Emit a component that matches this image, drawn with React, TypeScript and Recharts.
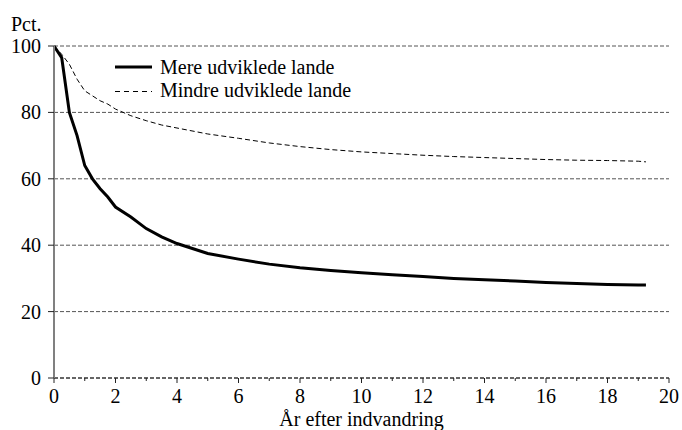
import { LineChart, Line, XAxis, YAxis, CartesianGrid } from 'recharts'

// years since immigration
const years = [0, 0.25, 0.5, 0.75, 1, 1.25, 1.5, 1.75, 2, 2.5, 3, 3.5, 4, 5, 6, 7, 8, 9, 10, 11, 12, 13, 14, 15, 16, 17, 18, 19, 19.25]
const mere = [100, 96.5, 80, 73, 64, 60, 57, 54.5, 51.5, 48.5, 45, 42.5, 40.5, 37.5, 35.8, 34.3, 33.2, 32.4, 31.7, 31.1, 30.6, 30.0, 29.6, 29.2, 28.8, 28.5, 28.2, 28.0, 28.0]
const mindre = [100, 97.5, 94.5, 90, 86.5, 85, 83.5, 82.5, 81, 79, 77.5, 76.2, 75.3, 73.5, 72.2, 70.8, 69.7, 68.8, 68.1, 67.6, 67.1, 66.7, 66.4, 66.1, 65.8, 65.6, 65.5, 65.3, 65.1]
const seriesNames = ['Mere udviklede lande', 'Mindre udviklede lande']
const xTicks = Array.from({ length: 21 }, (_, i) => i)
const yTicks = [0, 20, 40, 60, 80, 100]

const data = years.map((yr, i) => ({ yr, mere: mere[i], mindre: mindre[i] }))

const FONT = 'Liberation Serif'

// x ticks: long mark + label on even years, short mark on odd years
function XTick(props: any) {
  const { x, y, payload } = props
  const major = payload.value % 2 === 0
  const axisY = y - 6
  return (
    <g>
      <line x1={x} x2={x} y1={axisY} y2={axisY + (major ? 5 : 3)} stroke="#222" />
      {major && (
        <text x={x} y={axisY + 24.5} textAnchor="middle" style={{ fontFamily: FONT }} fontSize={20} fill="#000">
          {payload.value}
        </text>
      )}
    </g>
  )
}

function YTick(props: any) {
  const { x, y, payload } = props
  return (
    <text x={x} y={y + 7} textAnchor="end" style={{ fontFamily: FONT }} fontSize={20} fill="#000">
      {payload.value}
    </text>
  )
}

export default function App() {
  return (
    <div style={{ position: 'absolute', left: 0, top: 0, width: 682, height: 430, background: '#fff', fontFamily: FONT }}>
      <LineChart width={682} height={430} data={data} margin={{ top: 46, right: 13, bottom: 0, left: 0 }} style={{ fontFamily: FONT }}>
        <CartesianGrid vertical={false} stroke="#555" strokeDasharray="4 2" horizontalValues={yTicks} />
        <XAxis
          dataKey="yr"
          type="number"
          domain={[0, 20]}
          ticks={xTicks}
          interval={0}
          height={52}
          tickSize={6}
          tickMargin={0}
          tick={<XTick />}
          tickLine={false}
          axisLine={{ stroke: '#222', strokeDasharray: '4 2' }}
          label={{ value: 'År efter indvandring', position: 'insideBottom', offset: 4, style: { fontFamily: FONT }, fontSize: 20, fill: '#000' }}
        />
        <YAxis
          type="number"
          domain={[0, 100]}
          ticks={yTicks}
          width={54}
          tickSize={6}
          tickMargin={7}
          tick={<YTick />}
          tickLine={{ stroke: '#222' }}
          axisLine={{ stroke: '#808080', strokeWidth: 2 }}
        />
        <Line dataKey="mindre" stroke="#000" strokeWidth={1} strokeDasharray="5 3" dot={false} isAnimationActive={false} />
        <Line dataKey="mere" stroke="#000" strokeWidth={3} dot={false} isAnimationActive={false} />
      </LineChart>
      <svg style={{ position: 'absolute', left: 0, top: 0, fontFamily: FONT }} width={400} height={110}>
        <text x={11} y={31} fontSize={20} fill="#000">Pct.</text>
        <line x1={115} x2={152} y1={67} y2={67} stroke="#000" strokeWidth={3} />
        <text x={160} y={73.5} fontSize={20} fill="#000">{seriesNames[0]}</text>
        <line x1={115} x2={152} y1={91.5} y2={91.5} stroke="#000" strokeWidth={1} strokeDasharray="5 4" />
        <text x={160} y={97} fontSize={20} fill="#000">{seriesNames[1]}</text>
      </svg>
    </div>
  )
}
